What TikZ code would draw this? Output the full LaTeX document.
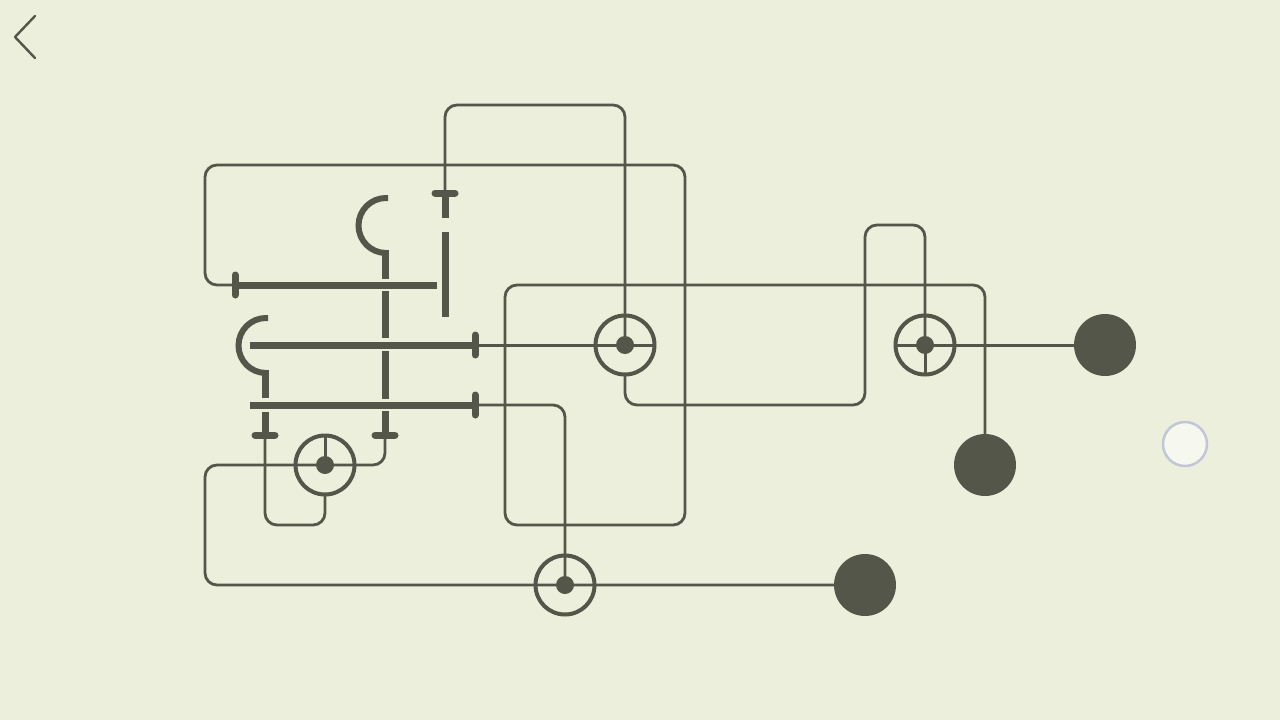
\documentclass[tikz,border=0pt]{standalone}
\usetikzlibrary{calc}
\definecolor{paper}{HTML}{ECEFDC}
\definecolor{ink}{HTML}{55564A}
\definecolor{knob}{HTML}{F6F8F0}
\definecolor{knobedge}{HTML}{C2C6D6}
\tikzset{
  wire/.style={draw=ink,line width=2.8pt,rounded corners=12pt,line cap=round},
  spoke/.style={draw=ink,line width=3pt},
  bar/.style={draw=ink,line width=7pt},
  hook/.style={draw=ink,line width=6pt},
  tick/.style={draw=ink,line width=7pt,line cap=round},
  ring/.style={circle,draw=ink,line width=4pt,minimum size=59pt,inner sep=0pt,outer sep=0pt},
  hub/.style={circle,fill=ink,minimum size=18pt,inner sep=0pt,outer sep=0pt},
  lamp/.style={circle,fill=ink,minimum size=62pt,inner sep=0pt,outer sep=0pt},
}

\begin{document}
\begin{tikzpicture}[x=1pt,y=-1pt]
\fill[paper] (0,0) rectangle (1280,720);
\useasboundingbox (0,0) rectangle (1280,720);
% rings and lamps
\node[ring] (ringA) at (625,345) {};
\node[ring] (ringB) at (925,345) {};
\node[ring] (ringC) at (325,465) {};
\node[ring] (ringD) at (565,585) {};
\node[lamp] (lampA) at (1105,345) {};
\node[lamp] (lampB) at (985,465) {};
\node[lamp] (lampC) at (865,585) {};
% ends of the bars
\coordinate (topT) at (445,193);
\coordinate (leftT) at (235,285);
\coordinate (midT) at (475,345);
\coordinate (lowT) at (475,405);
\coordinate (footA) at (265,435);
\coordinate (footB) at (385,435);
% long wires
\draw[wire] (leftT) -- (205,285) -- (205,165) -- (685,165) -- (685,525) -- (505,525) -- (505,285) -- (985,285) -- (lampB);
\draw[wire] (topT) -- (445,105) -- (625,105) -- (ringA.center);
\draw[wire] (ringA.south) -- (625,405) -- (865,405) -- (865,225) -- (925,225) -- (ringB.center);
\draw[spoke] (midT) -- (ringA.east);
\draw[spoke] (ringB.west) -- (lampA);
\draw[spoke] (ringB.center) -- (ringB.south);
\draw[wire] (lowT) -- (565,405) -- (ringD.center);
\draw[wire] (lampC) -- (205,585) -- (205,465) -- (ringC.east);
\draw[wire] (footB) -- (385,465) -- (ringC.east);
\draw[wire] (footA) -- (265,525) -- (325,525) -- (ringC.south);
\draw[spoke] (ringC.north) -- (ringC.center);
% thick bars
\draw[bar] (leftT) -- (437,285);
\draw[bar] (250,345) -- (midT);
\draw[bar] (250,405) -- (lowT);
\draw[bar] (topT) -- (445,218);
\draw[bar] (445,232) -- (445,317);
\draw[bar] (385,250) -- (385,279);
\draw[bar] (385,291) -- (385,338);
\draw[bar] (385,351) -- (385,399);
\draw[bar] (385,411) -- (footB);
\draw[bar] (265,370) -- (265,398);
\draw[bar] (265,412) -- (footA);
\draw[hook] (388,198) -- (386,198) arc[start angle=270,end angle=90,radius=27.5];
\draw[hook] (268,318) -- (266,318) arc[start angle=270,end angle=90,radius=27.5];
% ticks
\draw[tick] ($(leftT)+(0,-10)$) -- ($(leftT)+(0,10)$);
\draw[tick] ($(midT)+(0,-10)$) -- ($(midT)+(0,10)$);
\draw[tick] ($(lowT)+(0,-10)$) -- ($(lowT)+(0,10)$);
\draw[tick] ($(topT)+(-10,0)$) -- ($(topT)+(10,0)$);
\draw[tick] ($(footA)+(-10,0)$) -- ($(footA)+(10,0)$);
\draw[tick] ($(footB)+(-10,0)$) -- ($(footB)+(10,0)$);
% hubs
\node[hub] (hubA) at (ringA) {};
\node[hub] (hubB) at (ringB) {};
\node[hub] (hubC) at (ringC) {};
\node[hub] (hubD) at (ringD) {};
% back arrow and knob
\draw[draw=ink,line width=2.4pt,line cap=round,line join=round] (35,16) -- (15,37) -- (35,58);
\node[circle,fill=knob,draw=knobedge,line width=2.5pt,minimum size=44pt,inner sep=0pt] (knob) at (1185,444) {};
\end{tikzpicture}
\end{document}
